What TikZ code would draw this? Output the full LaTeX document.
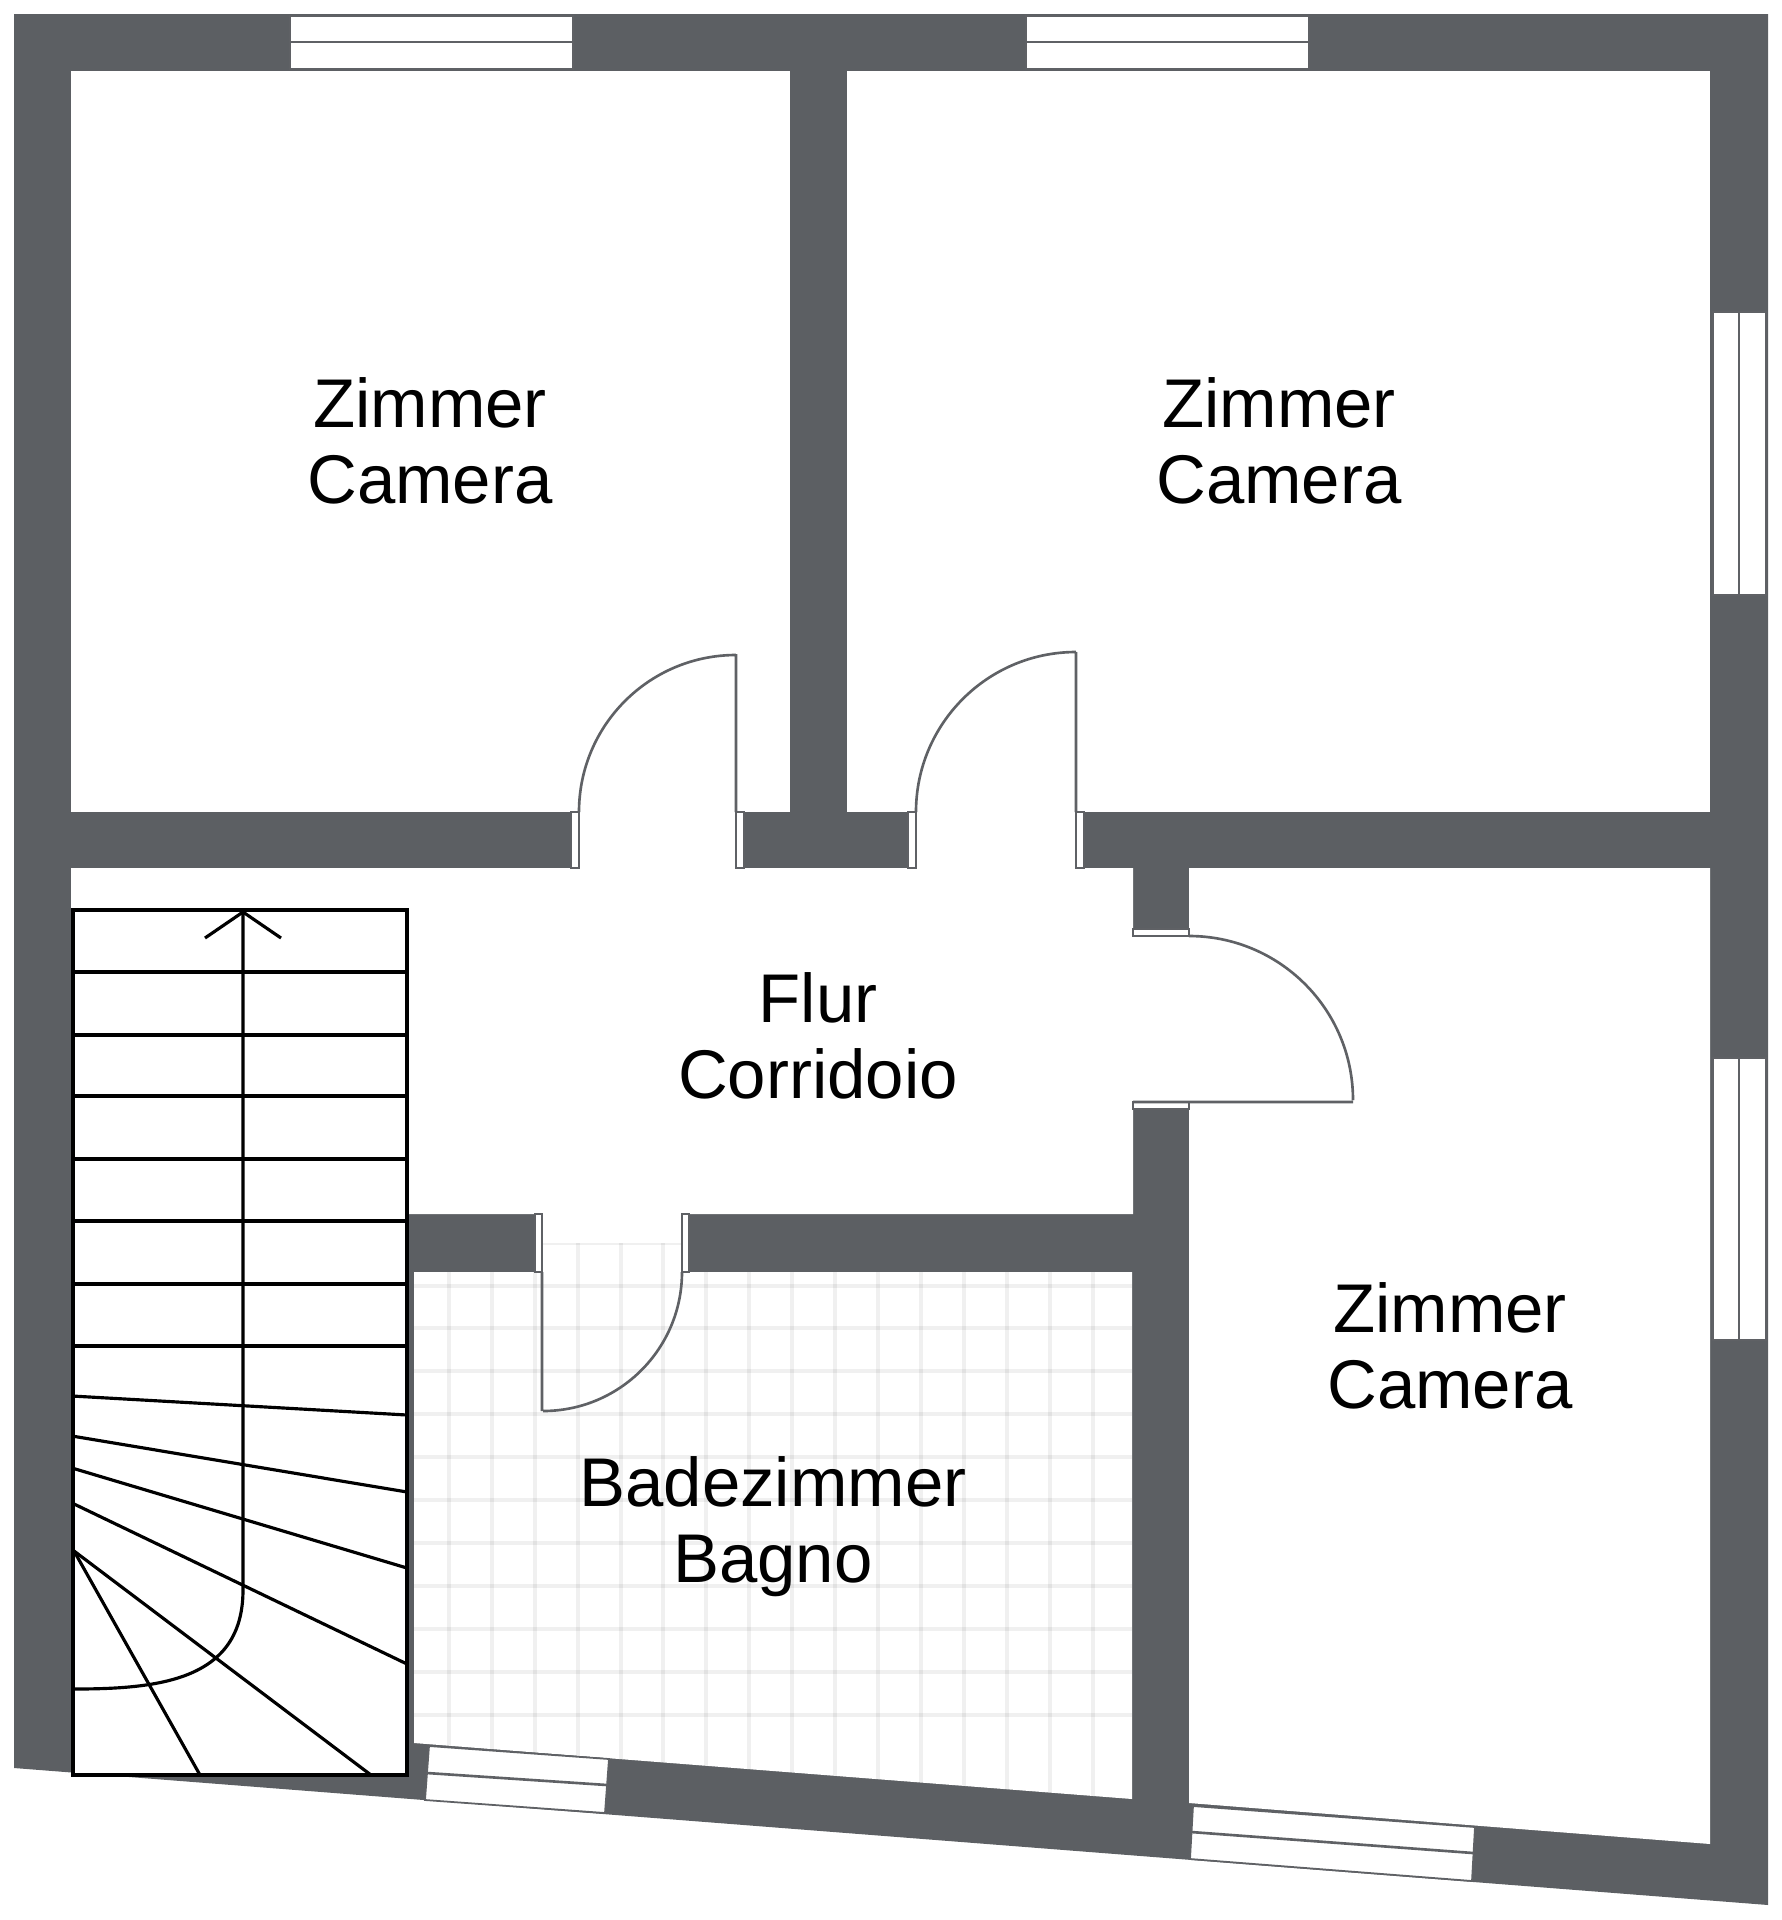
\documentclass[tikz,border=0pt]{standalone}
\usepackage{fontspec}
\setmainfont{Liberation Sans}
\definecolor{wallgray}{HTML}{5C5F63}
\definecolor{leafgray}{HTML}{5F6165}
\tikzset{
    room/.style={fill=white},
    jamb/.style={draw=leafgray,fill=white,line width=0.5pt},
    leaf/.style={draw=leafgray,line width=0.75pt},
    tile/.style={draw=black,opacity=0.06,line width=1.4pt},
    tread/.style={draw=black,line width=0.9pt},
    label/.style={align=center,text=black,font=\fontsize{19.6}{21.6}\selectfont},
}
\begin{document}
\begin{tikzpicture}[x=0.01cm,y=-0.01cm]
    \useasboundingbox (0,0) rectangle (1782,1920);
    % walls
    \fill[wallgray] (14,14) -- (1768,14) -- (1768,1905) -- (14,1768) -- cycle;
    % rooms
    \fill[room] (71,71) rectangle (790,812);
    \fill[room] (847,71) rectangle (1710,812);
    \fill[room] (1189,868) -- (1710,868) -- (1710,1844) -- (1189,1803) -- cycle;
    \fill[room] (414,1272) -- (1132,1272) -- (1132,1799) -- (414,1743) -- cycle;
    \fill[room] (71,868) -- (1133,868) -- (1133,1214) -- (407,1214) -- (407,1775) -- (71,1775) -- cycle;
    % door openings
    \fill[room] (579,812) rectangle (736,868);
    \fill[room] (916,812) rectangle (1076,868);
    \fill[room] (1133,936) rectangle (1189,1102);
    \fill[room] (542,1214) rectangle (682,1272);
    % tiles
    \begin{scope}
        \clip (414,1272) -- (1132,1272) -- (1132,1799) -- (414,1743) -- cycle
              (542,1243) rectangle (682,1272);
        \foreach \x in {449,492,535,578,621,663,706,749,792,835,878,921,964,1007,1050,1093} {
            \draw[tile] (\x,1243) -- (\x,1800);
        }
        \foreach \y in {1243,1286,1328,1371,1414,1457,1500,1543,1586,1629,1672,1715} {
            \draw[tile] (414,\y) -- (1132,\y);
        }
    \end{scope}
    % door jambs
    \foreach \xa/\xb/\ya/\yb in {571/579/812/868, 736/744/812/868, 908/916/812/868, 1076/1084/812/868,
                                 535/542/1214/1272, 682/689/1214/1272,
                                 1133/1189/929/936, 1133/1189/1102/1109} {
        \draw[jamb] (\xa,\ya) rectangle (\xb,\yb);
    }
    % door leaves
    \draw[leaf] (736,812) -- (736,654) (579,812) arc[start angle=180,end angle=270,radius=157];
    \draw[leaf] (1076,812) -- (1076,652) (916,812) arc[start angle=180,end angle=270,radius=160];
    \draw[leaf] (1133,1102) -- (1353,1102) (1189,936) arc[start angle=270,end angle=360,radius=164];
    \draw[leaf] (542,1272) -- (542,1411) (682,1272) arc[start angle=0,end angle=90,radius=139];
    % windows
    \foreach \xa/\xb in {290/573, 1026/1309} {
        \draw[jamb] (\xa,16) rectangle (\xb,69);
        \draw[leaf] (\xa,42) -- (\xb,42);
    }
    \foreach \ya/\yb in {312/595, 1058/1340} {
        \draw[jamb] (1713,\ya) rectangle (1766,\yb);
        \draw[leaf] (1739,\ya) -- (1739,\yb);
    }
    \draw[jamb] (429,1746) -- (609,1759) -- (605,1813) -- (425,1800) -- cycle;
    \draw[leaf] (427,1773) -- (607,1785);
    \draw[jamb] (1193,1806) -- (1475,1827) -- (1472,1881) -- (1190,1859) -- cycle;
    \draw[leaf] (1191,1832) -- (1473,1853);
    % stairs
    \fill[room] (72,910) rectangle (407,1775);
    \foreach \y in {972,1035,1096,1159,1221,1284,1346} {
        \draw[tread] (72,\y) -- (407,\y);
    }
    \foreach \ya/\yb in {1396/1415, 1436/1492, 1468/1568, 1503/1664} {
        \draw[tread] (72,\ya) -- (407,\yb);
    }
    \draw[tread] (74,1551) -- (371,1775);
    \draw[tread] (74,1551) -- (200,1775);
    \draw[black,line width=1pt] (73,910) rectangle (407,1775);
    % walking line
    \draw[tread] (243,910) -- (243,1590) .. controls (243,1680) and (160,1689) .. (74,1689);
    \draw[tread] (205,938) -- (243,912) -- (281,938);
    % labels
    \node[label] (zimmerone) at (430,441) {Zimmer\\Camera};
    \node[label] (zimmertwo) at (1279,441) {Zimmer\\Camera};
    \node[label] (zimmerthree) at (1450,1346) {Zimmer\\Camera};
    \node[label] (flur) at (818,1036) {Flur\\Corridoio};
    \node[label] (bad) at (773,1527) {Badezimmer\\Bagno};
\end{tikzpicture}
\end{document}
